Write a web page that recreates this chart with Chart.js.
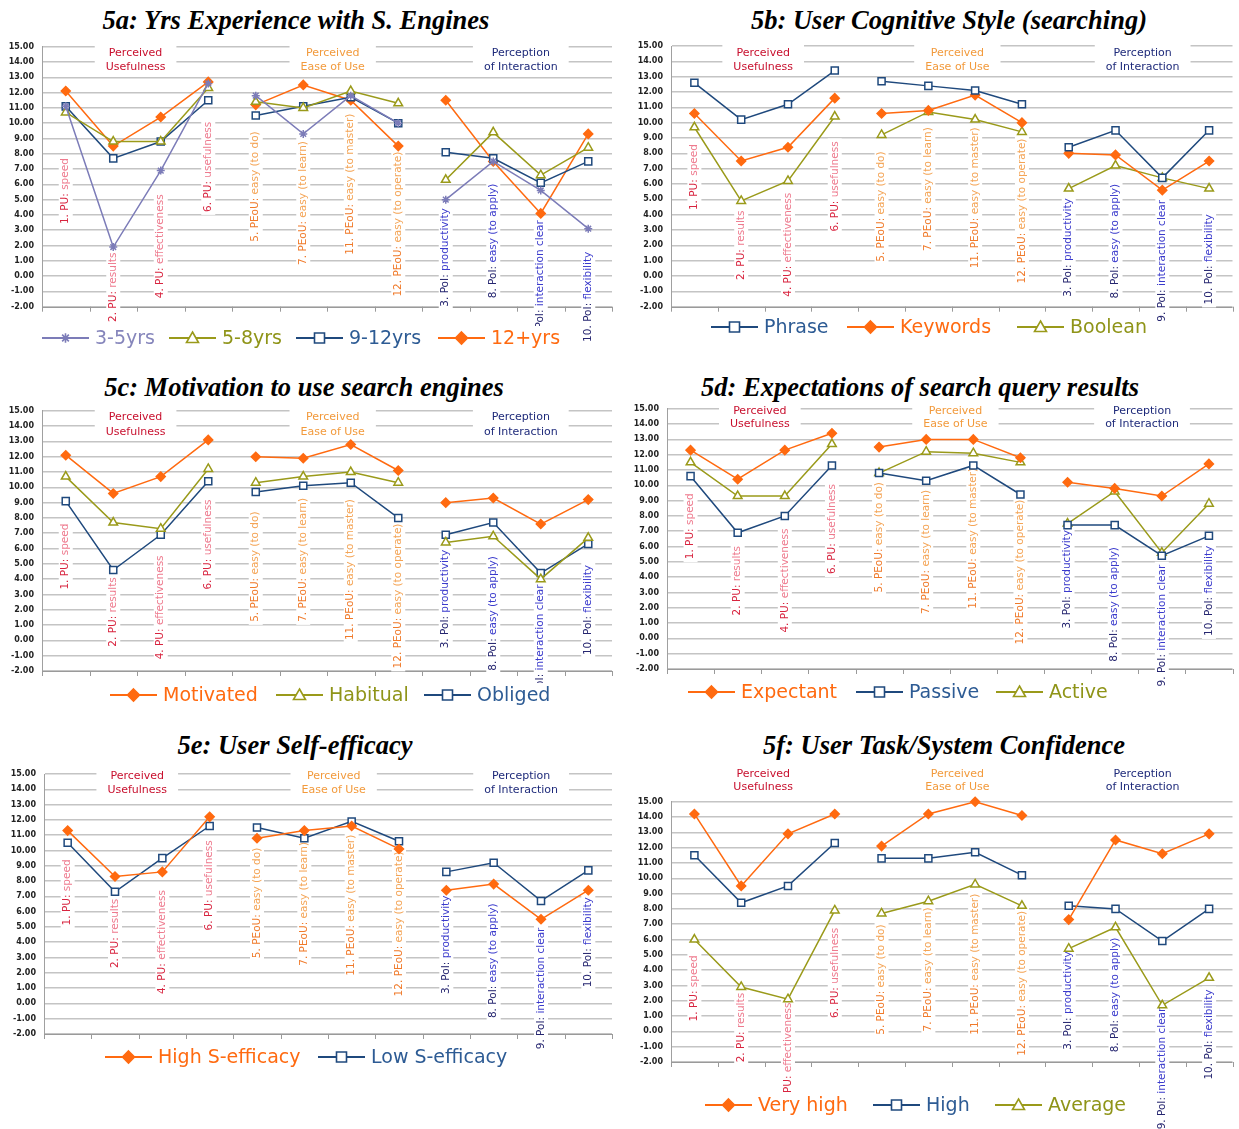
<!DOCTYPE html>
<html>
<head>
<meta charset="utf-8">
<script src="https://cdn.jsdelivr.net/npm/chart.js@4.4.1/dist/chart.umd.min.js"></script>
<style>
  body { margin: 0; background: #fff; width: 1239px; height: 1129px; position: relative; overflow: hidden; }
  .title { position: absolute; font: bold italic 26.5px "Liberation Serif", "Times New Roman", serif; white-space: nowrap; transform: translate(-50%, -50%); color: #000; }
  canvas { position: absolute; }
</style>
</head>
<body>
<div class="title" style="left:296px;top:20px">5a: Yrs Experience with S. Engines</div>
<div class="title" style="left:949px;top:20px">5b: User Cognitive Style (searching)</div>
<div class="title" style="left:304px;top:387px">5c: Motivation to use search engines</div>
<div class="title" style="left:920px;top:387px">5d: Expectations of search query results</div>
<div class="title" style="left:295px;top:745px">5e: User Self-efficacy</div>
<div class="title" style="left:944px;top:745px">5f: User Task/System Confidence</div>
<canvas id="c5a"></canvas>
<canvas id="c5b"></canvas>
<canvas id="c5c"></canvas>
<canvas id="c5d"></canvas>
<canvas id="c5e"></canvas>
<canvas id="c5f"></canvas>
<script>
// ---------- data ----------
const categories = [
    '1. PU: speed', '2. PU: results', '4. PU: effectiveness', '6. PU: usefulness',
    '5. PEoU: easy (to do)', '7. PEoU: easy (to learn)', '11. PEoU: easy (to master)', '12. PEoU: easy (to operate)',
    '3. PoI: productivity', '8. PoI: easy (to apply)', '9. PoI: interaction clear', '10. PoI: flexibility'
];
const groupHeaders = [['Perceived', 'Usefulness'], ['Perceived', 'Ease of Use'], ['Perception', 'of Interaction']];

// 5a
const yrs3to5  = [11.1, 1.9, 6.9, 12.6, 11.8, 9.3, 11.8, 10.0, 5.0, 7.5, 5.6, 3.1];
const yrs5to8  = [10.7, 8.8, 8.8, 12.3, 11.4, 11.0, 12.1, 11.3, 6.3, 9.4, 6.6, 8.4];
const yrs9to12 = [11.1, 7.7, 8.8, 11.5, 10.5, 11.1, 11.7, 10.0, 8.1, 7.7, 6.1, 7.5];
const yrs12up  = [12.1, 8.5, 10.4, 12.7, 11.2, 12.5, 11.5, 8.5, 11.5, 7.5, 4.1, 9.3];
// 5b
const phrase   = [12.6, 10.2, 11.2, 13.4, 12.7, 12.4, 12.1, 11.2, 8.4, 9.5, 6.4, 9.5];
const keywords = [10.6, 7.5, 8.4, 11.6, 10.6, 10.8, 11.8, 10.0, 8.0, 7.9, 5.6, 7.5];
const boolean  = [9.7, 4.9, 6.2, 10.4, 9.2, 10.7, 10.2, 9.4, 5.7, 7.2, 6.4, 5.7];
// 5c
const motivated = [12.1, 9.6, 10.7, 13.1, 12.0, 11.9, 12.8, 11.1, 9.0, 9.3, 7.6, 9.2];
const habitual  = [10.7, 7.7, 7.3, 11.2, 10.3, 10.7, 11.0, 10.3, 6.4, 6.8, 4.0, 6.7];
const obliged   = [9.1, 4.6, 6.9, 10.4, 9.7, 10.1, 10.3, 8.0, 6.9, 7.7, 4.4, 6.3];
// 5d
const expectant = [12.3, 10.4, 12.3, 13.4, 12.5, 13.0, 13.0, 11.8, 10.2, 9.8, 9.3, 11.4];
const passive   = [10.6, 6.9, 8.0, 11.3, 10.8, 10.3, 11.3, 9.4, 7.4, 7.4, 5.4, 6.7];
const active    = [11.5, 9.3, 9.3, 12.7, 10.8, 12.2, 12.1, 11.5, 7.5, 9.6, 5.6, 8.8];
// 5e
const highSE = [11.3, 8.3, 8.6, 12.2, 10.8, 11.3, 11.6, 10.1, 7.4, 7.8, 5.5, 7.4];
const lowSE  = [10.5, 7.3, 9.5, 11.6, 11.5, 10.8, 11.9, 10.6, 8.6, 9.2, 6.7, 8.7];
// 5f
const veryHigh = [14.2, 9.5, 12.9, 14.2, 12.1, 14.2, 15.0, 14.1, 7.3, 12.5, 11.6, 12.9];
const high     = [11.5, 8.4, 9.5, 12.3, 11.3, 11.3, 11.7, 10.2, 8.2, 8.0, 5.9, 8.0];
const average  = [6.0, 2.9, 2.1, 7.9, 7.7, 8.5, 9.6, 8.2, 5.4, 6.8, 1.7, 3.5];

// ---------- styles ----------
const kinds = {
    orange: { color: '#ff6a10', text: '#ff6a10', fill: '#ff6a10', style: 'rectRot', r: 4.5 },
    blue:   { color: '#1f497d', text: '#2d5b94', fill: '#ffffff', style: 'rect', r: 5 },
    olive:  { color: '#9a9a1a', text: '#8f9418', fill: '#ffffff', style: 'triangle', r: 5 },
    lilac:  { color: '#7c7cb8', text: '#8585bb', fill: '#7c7cb8', style: 'star', r: 4 }
};
const groupColors = [
    { head: '#c8102e', pre: '#d8243f', post: '#ee7a8e' },
    { head: '#f29a3c', pre: '#f07a2a', post: '#f4a455' },
    { head: '#1e2a7a', pre: '#262670', post: '#3a3acc' }
];
const headerPos = [1.97, 6.12, 10.08];

// box = canvas [left, top, width, height]; plot = [left, top(15), right, bottom(-2)]
const figures = [
    { id: 'c5a', box: [0, 32, 622, 330], plot: [42, 46.7, 612, 306.7], headerY: [6.5, 20.5],
      labelAt: [3.4, -3.0, -1.45, 4.2, 2.25, 0.73, 1.4, -1.34, -2.0, -1.45, -4.3, -4.3],
      legendY: 338, legendX: [42, 169, 296, 438],
      series: [['3-5yrs', yrs3to5, 'lilac'], ['5-8yrs', yrs5to8, 'olive'], ['9-12yrs', yrs9to12, 'blue'], ['12+yrs', yrs12up, 'orange']] },
    { id: 'c5b', box: [622, 32, 617, 330], plot: [671, 46, 1237, 306.7], headerY: [6.7, 21],
      labelAt: [4.3, -0.26, -1.35, 2.9, 0.93, 1.63, 0.5, -0.48, -1.35, -1.46, -2.98, -1.85],
      legendY: 327, legendX: [711, 847, 1017],
      series: [['Phrase', phrase, 'blue'], ['Keywords', keywords, 'orange'], ['Boolean', boolean, 'olive']] },
    { id: 'c5c', box: [0, 398, 622, 320], plot: [42, 410, 612, 671], headerY: [6.7, 21],
      labelAt: [3.32, -0.41, -1.24, 3.32, 1.21, 1.21, 0.02, -1.83, -0.52, -1.98, -4.3, -0.96],
      legendY: 695, legendX: [110, 276, 424],
      series: [['Motivated', motivated, 'orange'], ['Habitual', habitual, 'olive'], ['Obliged', obliged, 'blue']] },
    { id: 'c5d', box: [622, 396, 617, 320], plot: [667, 406.7, 1239, 669], headerY: [2.3, 15],
      labelAt: [5.17, 1.5, 0.38, 4.2, 3.0, 1.6, 1.93, -0.4, 0.64, -1.52, -3.14, 0.16],
      legendY: 692, legendX: [688, 856, 996],
      series: [['Expectant', expectant, 'orange'], ['Passive', passive, 'blue'], ['Active', active, 'olive']] },
    { id: 'c5e', box: [0, 758, 622, 320], plot: [44, 774, 612, 1034], headerY: [1.7, 16],
      labelAt: [5.1, 2.31, 0.61, 4.77, 2.96, 2.46, 1.81, 0.46, 0.61, -0.96, -3.0, 1.05],
      legendY: 1057, legendX: [105, 318],
      series: [['High S-efficacy', highSE, 'orange'], ['Low S-efficacy', lowSE, 'blue']] },
    { id: 'c5f', box: [622, 758, 617, 371], plot: [671, 801.7, 1239, 1062], headerY: [-27.7, -14.7],
      labelAt: [0.65, -2.02, -4.9, 0.87, -0.22, 0.0, -0.22, -1.59, -1.2, -1.37, -6.4, -3.15],
      legendY: 1105, legendX: [705, 873, 995],
      series: [['Very high', veryHigh, 'orange'], ['High', high, 'blue'], ['Average', average, 'olive']] }
];
const figById = {};
figures.forEach(f => { figById[f.id] = f; });

// ---------- drawing helpers ----------
function drawMarker(ctx, kind, x, y, s) {
    const k = kinds[kind];
    ctx.save();
    ctx.lineWidth = 1.6;
    ctx.strokeStyle = k.color;
    ctx.fillStyle = k.fill;
    ctx.beginPath();
    if (k.style === 'rectRot') {
        ctx.moveTo(x, y - s); ctx.lineTo(x + s, y); ctx.lineTo(x, y + s); ctx.lineTo(x - s, y); ctx.closePath();
        ctx.fill(); ctx.stroke();
    } else if (k.style === 'rect') {
        ctx.rect(x - s + 1, y - s + 1, 2 * s - 2, 2 * s - 2);
        ctx.fill(); ctx.stroke();
    } else if (k.style === 'triangle') {
        ctx.moveTo(x, y - s); ctx.lineTo(x + s, y + s * 0.75); ctx.lineTo(x - s, y + s * 0.75); ctx.closePath();
        ctx.fill(); ctx.stroke();
    } else {
        const r = s * 0.8;
        ctx.moveTo(x - r, y); ctx.lineTo(x + r, y);
        ctx.moveTo(x, y - r); ctx.lineTo(x, y + r);
        ctx.moveTo(x - r * 0.7, y - r * 0.7); ctx.lineTo(x + r * 0.7, y + r * 0.7);
        ctx.moveTo(x - r * 0.7, y + r * 0.7); ctx.lineTo(x + r * 0.7, y - r * 0.7);
        ctx.stroke();
    }
    ctx.restore();
}

const decorPlugin = {
    id: 'decor',
    beforeDatasetsDraw(chart) {
        const fig = figById[chart.canvas.id];
        const ctx = chart.ctx, area = chart.chartArea;
        const xs = chart.scales.x, ys = chart.scales.y;
        const w = (area.right - area.left) / categories.length;
        ctx.save();

        // bottom axis with tick marks
        ctx.strokeStyle = '#9a9a9a';
        ctx.lineWidth = 1;
        ctx.beginPath();
        ctx.moveTo(area.left, Math.round(area.bottom) + 0.5);
        ctx.lineTo(area.right, Math.round(area.bottom) + 0.5);
        for (let i = 0; i <= categories.length; i++) {
            const px = Math.round(area.left + i * w) + 0.5;
            ctx.moveTo(px, area.bottom);
            ctx.lineTo(px, area.bottom + 5);
        }
        ctx.stroke();

        // group headers
        ctx.font = '11px "DejaVu Sans"';
        ctx.textAlign = 'center';
        ctx.textBaseline = 'middle';
        groupHeaders.forEach((lines, g) => {
            const cx = area.left + headerPos[g] * w;
            const y1 = area.top + fig.headerY[0], y2 = area.top + fig.headerY[1];
            const tw = Math.max(ctx.measureText(lines[0]).width, ctx.measureText(lines[1]).width) + 22;
            ctx.fillStyle = '#fff';
            ctx.fillRect(cx - tw / 2, y1 - 9, tw, y2 - y1 + 17);
            ctx.fillStyle = groupColors[g].head;
            ctx.fillText(lines[0], cx, y1);
            ctx.fillText(lines[1], cx, y2);
        });

        // rotated category labels
        ctx.font = '10.5px "DejaVu Sans"';
        ctx.textAlign = 'left';
        categories.forEach((label, i) => {
            const g = i < 4 ? 0 : (i < 8 ? 1 : 2);
            const cut = label.indexOf(':') + 1;
            const pre = label.slice(0, cut), post = label.slice(cut);
            const cx = xs.getPixelForValue(i), by = ys.getPixelForValue(fig.labelAt[i]);
            const pw = ctx.measureText(pre).width;
            const tw = pw + ctx.measureText(post).width;
            ctx.save();
            ctx.translate(cx, by);
            ctx.rotate(-Math.PI / 2);
            ctx.fillStyle = '#fff';
            ctx.fillRect(-3, -7, tw + 6, 14);
            ctx.fillStyle = groupColors[g].pre;
            ctx.fillText(pre, 0, 0);
            ctx.fillStyle = groupColors[g].post;
            ctx.fillText(post, pw, 0);
            ctx.restore();
        });
        ctx.restore();
    },
    afterDraw(chart) {
        const fig = figById[chart.canvas.id];
        const ctx = chart.ctx;
        const ox = fig.box[0], oy = fig.box[1];
        const y = fig.legendY - oy;
        ctx.save();
        ctx.font = '19px "DejaVu Sans"';
        ctx.textBaseline = 'middle';
        ctx.textAlign = 'left';
        const last = fig.series.length - 1;
        const endX = fig.legendX[last] - ox + 53 + ctx.measureText(fig.series[last][0]).width;
        ctx.fillStyle = '#fff';
        ctx.fillRect(fig.legendX[0] - ox - 4, y - 12, endX - (fig.legendX[0] - ox) + 8, 25);
        fig.series.forEach((s, i) => {
            const k = kinds[s[2]];
            const x0 = fig.legendX[i] - ox;
            ctx.strokeStyle = k.color;
            ctx.lineWidth = 2;
            ctx.beginPath();
            ctx.moveTo(x0, y);
            ctx.lineTo(x0 + 47, y);
            ctx.stroke();
            drawMarker(ctx, s[2], x0 + 23.5, y, 6);
            ctx.fillStyle = k.text;
            ctx.fillText(s[0], x0 + 53, y + 1);
        });
        ctx.restore();
    }
};

function makeDataset(s) {
    const k = kinds[s[2]];
    return {
        label: s[0],
        data: s[1],
        borderColor: k.color,
        backgroundColor: k.fill,
        borderWidth: 1.5,
        tension: 0,
        clip: 10,
        pointStyle: k.style,
        pointRadius: k.r,
        pointBorderWidth: 1.5,
        pointBackgroundColor: k.fill,
        pointBorderColor: k.color,
        segment: {
            // lines break between the three groups
            borderColor: c => (c.p0DataIndex === 3 || c.p0DataIndex === 7) ? 'rgba(0,0,0,0)' : undefined
        }
    };
}

function buildChart(fig) {
    const cv = document.getElementById(fig.id);
    const [bx, by, bw, bh] = fig.box;
    const [pl, pt, pr, pb] = fig.plot;
    cv.width = bw;
    cv.height = bh;
    cv.style.left = bx + 'px';
    cv.style.top = by + 'px';
    cv.style.width = bw + 'px';
    cv.style.height = bh + 'px';

    new Chart(cv, {
        type: 'line',
        data: {
            labels: categories,
            datasets: fig.series.map(makeDataset)
        },
        options: {
            responsive: false,
            animation: false,
            devicePixelRatio: 1,
            layout: {
                padding: { left: 0, top: pt - by, right: bx + bw - pr, bottom: by + bh - pb }
            },
            plugins: {
                legend: { display: false },
                tooltip: { enabled: false }
            },
            scales: {
                x: { display: false, offset: true },
                y: {
                    min: -2,
                    max: 15,
                    afterFit: function(scale) { scale.width = pl - bx; },
                    ticks: {
                        stepSize: 1,
                        autoSkip: false,
                        maxTicksLimit: 30,
                        padding: 8,
                        color: '#222',
                        font: { family: 'DejaVu Sans', size: 8, weight: 'bold' },
                        callback: v => v.toFixed(2)
                    },
                    grid: { color: '#c4c4c4', lineWidth: 1.5, drawTicks: false },
                    border: { color: '#a0a0a0', width: 1 }
                }
            }
        },
        plugins: [decorPlugin]
    });
}

figures.forEach(buildChart);
</script>
</body>
</html>
